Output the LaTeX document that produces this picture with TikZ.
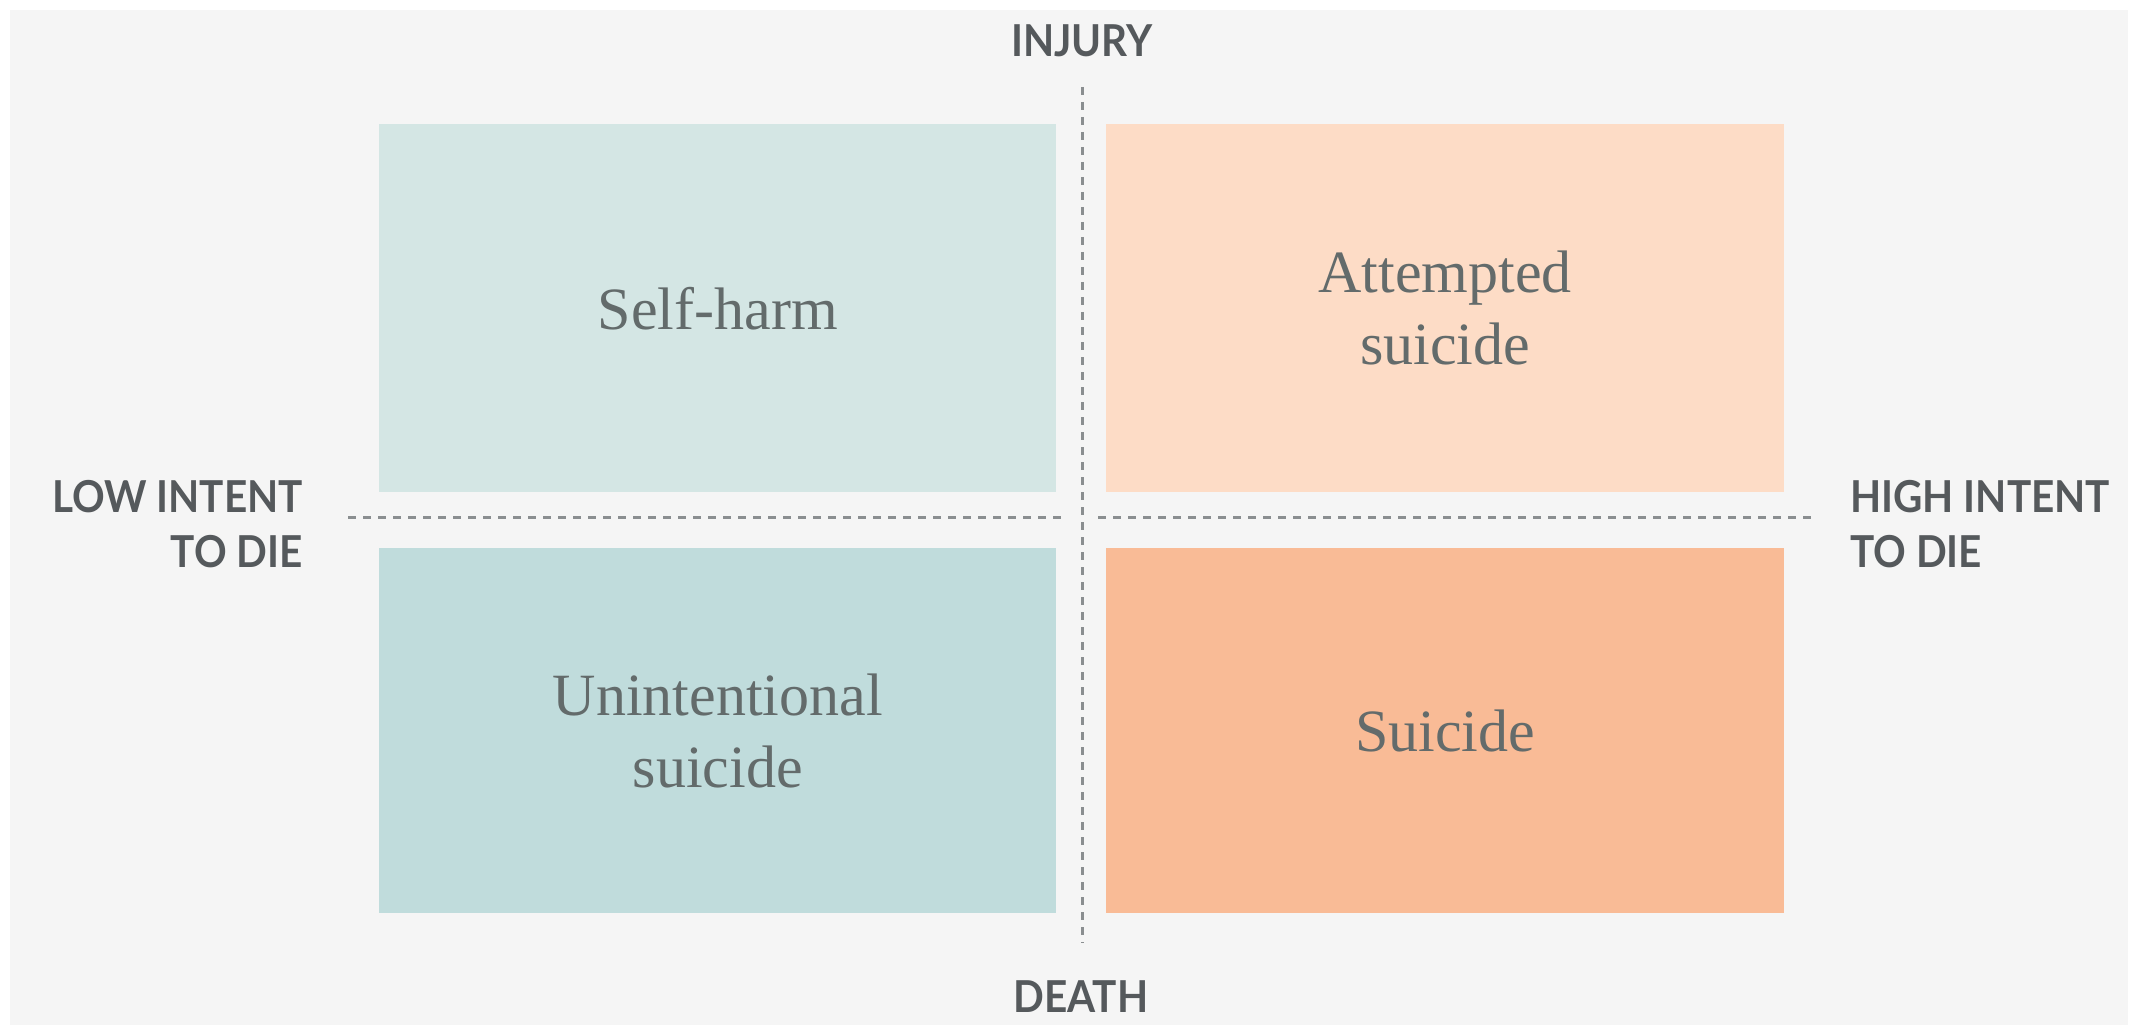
\documentclass[tikz,border=0pt]{standalone}
\usepackage{fontspec}
\setmainfont{Liberation Serif}
\newfontfamily\lblfont[FakeStretch=0.92]{Lato}
\definecolor{bgc}{HTML}{F5F5F5}
\definecolor{tlc}{HTML}{D4E6E4}
\definecolor{blc}{HTML}{C0DCDC}
\definecolor{trc}{HTML}{FDDCC6}
\definecolor{brc}{HTML}{F9BB96}
\definecolor{boxtxt}{HTML}{636B6B}
\definecolor{lbltxt}{HTML}{55595C}
\definecolor{dashc}{HTML}{8A8E90}
\tikzset{
  quad/.style={draw=none, inner sep=0pt, anchor=north west, align=center,
    text=boxtxt, font=\fontsize{60}{72}\selectfont},
  axislbl/.style={inner sep=0pt, text=lbltxt, font=\lblfont\bfseries\fontsize{44}{55}\selectfont},
  axisline/.style={dashc, line width=3pt, dash pattern=on 8pt off 7pt}
}
\begin{document}
\begin{tikzpicture}[x=1pt,y=-1pt]
\useasboundingbox (0,0) rectangle (2136,1032);
\fill[white] (0,0) rectangle (2136,1032);
\fill[bgc] (10,10) rectangle (2128,1025);
% quadrants
\node[quad, fill=tlc, minimum width=677pt, minimum height=368pt] (tl) at (379,124) {Self-harm};
\node[quad, fill=trc, minimum width=678pt, minimum height=368pt] (tr) at (1106,124) {Attempted\\suicide};
\node[quad, fill=blc, minimum width=677pt, minimum height=365pt] (bl) at (379,548) {Unintentional\\suicide};
\node[quad, fill=brc, minimum width=678pt, minimum height=365pt] (br) at (1106,548) {Suicide};
% axis labels
\node[axislbl, anchor=base] (injury) at (1082,57) {INJURY};
\node[axislbl, anchor=base] (death) at (1081,1012) {DEATH};
\node[axislbl, anchor=base east, align=right] (low) at (303,567) {LOW INTENT\\TO DIE};
\node[axislbl, anchor=base west, align=left] (high) at (1850,567) {HIGH INTENT\\TO DIE};
% axes
\coordinate (vtop) at (1082,87);
\coordinate (vbot) at (1082,943);
\coordinate (hl1) at (348,517);
\coordinate (hl2) at (1063,517);
\coordinate (hr1) at (1098,517);
\coordinate (hr2) at (1813,517);
\draw[axisline] (vtop) -- (vbot);
\draw[axisline] (hl1) -- (hl2);
\draw[axisline] (hr1) -- (hr2);
\end{tikzpicture}
\end{document}
